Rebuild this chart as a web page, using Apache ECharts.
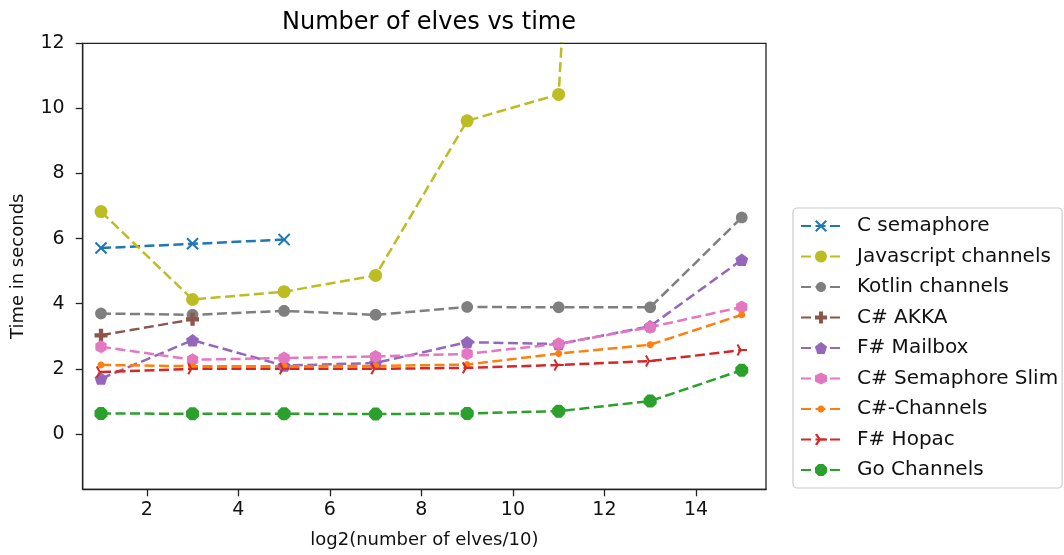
<!DOCTYPE html>
<html>
<head>
<meta charset="utf-8">
<script src="https://cdn.jsdelivr.net/npm/echarts@6/dist/echarts.min.js"></script>
<style>
  html, body { margin: 0; padding: 0; background: #ffffff; }
  #chart { width: 1064px; height: 555px; }
</style>
</head>
<body>
<div id="chart"></div>
<script>
// x = log2(number of elves / 10)
const xValues = [1, 3, 5, 7, 9, 11, 13, 15];

// Time in seconds per implementation
const cSemaphore     = [5.71, 5.84, 5.97];
const jsChannels     = [6.83, 4.13, 4.37, 4.87, 9.62, 10.43, 60];
const kotlinChannels = [3.70, 3.66, 3.78, 3.66, 3.90, 3.89, 3.89, 6.65];
const csAkka         = [3.03, 3.52];
const fsMailbox      = [1.70, 2.88, 2.10, 2.18, 2.82, 2.76, 3.31, 5.35];
const csSemSlim      = [2.68, 2.28, 2.33, 2.38, 2.46, 2.77, 3.28, 3.90];
const csChannels     = [2.12, 2.08, 2.08, 2.09, 2.13, 2.47, 2.74, 3.66];
const fsHopac        = [1.90, 2.00, 2.00, 2.00, 2.03, 2.12, 2.24, 2.58];
const goChannels     = [0.63, 0.62, 0.62, 0.61, 0.63, 0.70, 1.01, 1.96];

const xTicks = [2, 4, 6, 8, 10, 12, 14];
const yTicks = [0, 2, 4, 6, 8, 10, 12];

const FONT = 'DejaVu Sans';

// ---- marker shapes ----
function polyPath(n, rotDeg) {
  let d = '';
  for (let i = 0; i < n; i++) {
    const a = (rotDeg + i * 360 / n) * Math.PI / 180;
    const x = (10 + 10 * Math.cos(a)).toFixed(3);
    const y = (10 - 10 * Math.sin(a)).toFixed(3);
    d += (i === 0 ? 'M' : 'L') + x + ',' + y + ' ';
  }
  return 'path://' + d + 'Z';
}
// circle of radius r centred in a 20x20 box; the corner slivers have no area
// and only widen the bounding box so the dot keeps its relative size
function paddedCircle(r) {
  let d = 'M0,0 L0.01,0 Z M20,20 L19.99,20 Z ';
  for (let i = 0; i < 36; i++) {
    const a = i * 10 * Math.PI / 180;
    d += (i === 0 ? 'M' : 'L') + (10 + r * Math.cos(a)).toFixed(3) + ',' + (10 + r * Math.sin(a)).toFixed(3) + ' ';
  }
  return 'path://' + d + 'Z';
}
function spokesPath(anglesDeg, w) {
  let d = '';
  anglesDeg.forEach(function (deg) {
    const a = deg * Math.PI / 180;
    const ex = 10 * Math.cos(a), ey = -10 * Math.sin(a);
    const nx = -Math.sin(a) * w, ny = -Math.cos(a) * w;
    const pts = [[nx, ny], [ex + nx, ey + ny], [ex - nx, ey - ny], [-nx, -ny]];
    d += 'M' + pts.map(function (p) { return (p[0] + 10).toFixed(3) + ',' + (p[1] + 10).toFixed(3); }).join(' L') + ' Z ';
  });
  return 'path://' + d;
}
const SYM_X = 'path://M0,1.17 L1.17,0 L5,3.83 L8.83,0 L10,1.17 L6.17,5 L10,8.83 L8.83,10 L5,6.17 L1.17,10 L0,8.83 L3.83,5 Z';
const SYM_PLUS = 'path://M3,0 H6 V3 H9 V6 H6 V9 H3 V6 H0 V3 H3 Z';
const SYM_PENT = polyPath(5, 90);
const SYM_HEX = polyPath(6, 90);
const SYM_OCT = polyPath(8, 22.5);
const SYM_TRI = spokesPath([0, 120, 240], 1.6);
const SYM_SMALL_DOT = paddedCircle(5.8);
const SYM_MID_DOT = paddedCircle(8.4);

function toPoints(vals) {
  return vals.map(function (v, i) { return [xValues[i], v]; });
}

function lineSeries(name, vals, color, symbol, size) {
  return {
    name: name,
    type: 'line',
    data: toPoints(vals),
    symbol: symbol,
    symbolSize: size,
    symbolKeepAspect: true,
    showSymbol: true,
    clip: true,
    itemStyle: { color: color, opacity: 1 },
    lineStyle: { color: color, width: 2.5, type: [10, 4.5] },
    emphasis: { disabled: true },
    animation: false
  };
}

const series = [
  lineSeries('C semaphore', cSemaphore, '#1f77b4', SYM_X, 12.5),
  lineSeries('Javascript channels', jsChannels, '#bcbd22', 'circle', 13),
  lineSeries('Kotlin channels', kotlinChannels, '#7f7f7f', SYM_MID_DOT, 14),
  lineSeries('C# AKKA', csAkka, '#8c564b', SYM_PLUS, 13),
  lineSeries('F# Mailbox', fsMailbox, '#9467bd', SYM_PENT, 13),
  lineSeries('C# Semaphore Slim', csSemSlim, '#e377c2', SYM_HEX, 13),
  lineSeries('C#-Channels', csChannels, '#ff7f0e', SYM_SMALL_DOT, 12),
  lineSeries('F# Hopac', fsHopac, '#d62728', SYM_TRI, 12),
  lineSeries('Go Channels', goChannels, '#2ca02c', SYM_OCT, 13)
];

const chart = echarts.init(document.getElementById('chart'), null, { renderer: 'canvas' });
chart.setOption({
  backgroundColor: '#ffffff',
  animation: false,
  title: {
    text: 'Number of elves vs time',
    left: 424,
    top: 6,
    textAlign: 'center',
    textStyle: { fontFamily: FONT, fontSize: 24, fontWeight: 'normal', color: '#000' }
  },
  grid: {
    left: 82.7, right: 298, top: 43.3, bottom: 65.7,
    show: true, borderColor: '#222', borderWidth: 1.3, backgroundColor: '#fff',
    containLabel: false
  },
  legend: {
    orient: 'vertical',
    left: 793,
    top: 208,
    itemWidth: 40,
    itemHeight: 15,
    itemGap: 10.5,
    padding: [8, 4, 8, 7],
    borderColor: '#cccccc',
    borderWidth: 1.2,
    borderRadius: 4,
    backgroundColor: '#ffffff',
    selectedMode: false,
    textStyle: { fontFamily: FONT, fontSize: 20, color: '#111', lineHeight: 20, padding: [0, 0, 0, 11] },
    data: series.map(function (s) { return s.name; })
  },
  xAxis: {
    type: 'value',
    min: 0.6,
    max: 15.53,
    name: 'log2(number of elves/10)',
    nameLocation: 'middle',
    nameGap: 42,
    nameTextStyle: { fontFamily: FONT, fontSize: 18, color: '#111' },
    axisLine: { show: true, onZero: false, lineStyle: { color: '#222', width: 1.3 } },
    axisTick: { show: true, length: 7, customValues: xTicks, lineStyle: { color: '#222', width: 1.3 } },
    axisLabel: { customValues: xTicks, margin: 11, fontFamily: FONT, fontSize: 19, color: '#111' },
    splitLine: { show: false }
  },
  yAxis: {
    type: 'value',
    min: -1.70,
    max: 12,
    name: 'Time in seconds',
    nameLocation: 'middle',
    nameRotate: 90,
    nameGap: 55,
    nameTextStyle: { fontFamily: FONT, fontSize: 18, color: '#111' },
    axisLine: { show: true, onZero: false, lineStyle: { color: '#222', width: 1.3 } },
    axisTick: { show: true, length: 7, customValues: yTicks, lineStyle: { color: '#222', width: 1.3 } },
    axisLabel: { customValues: yTicks, margin: 18, fontFamily: FONT, fontSize: 19, color: '#111' },
    splitLine: { show: false }
  },
  series: series
});
</script>
</body>
</html>
